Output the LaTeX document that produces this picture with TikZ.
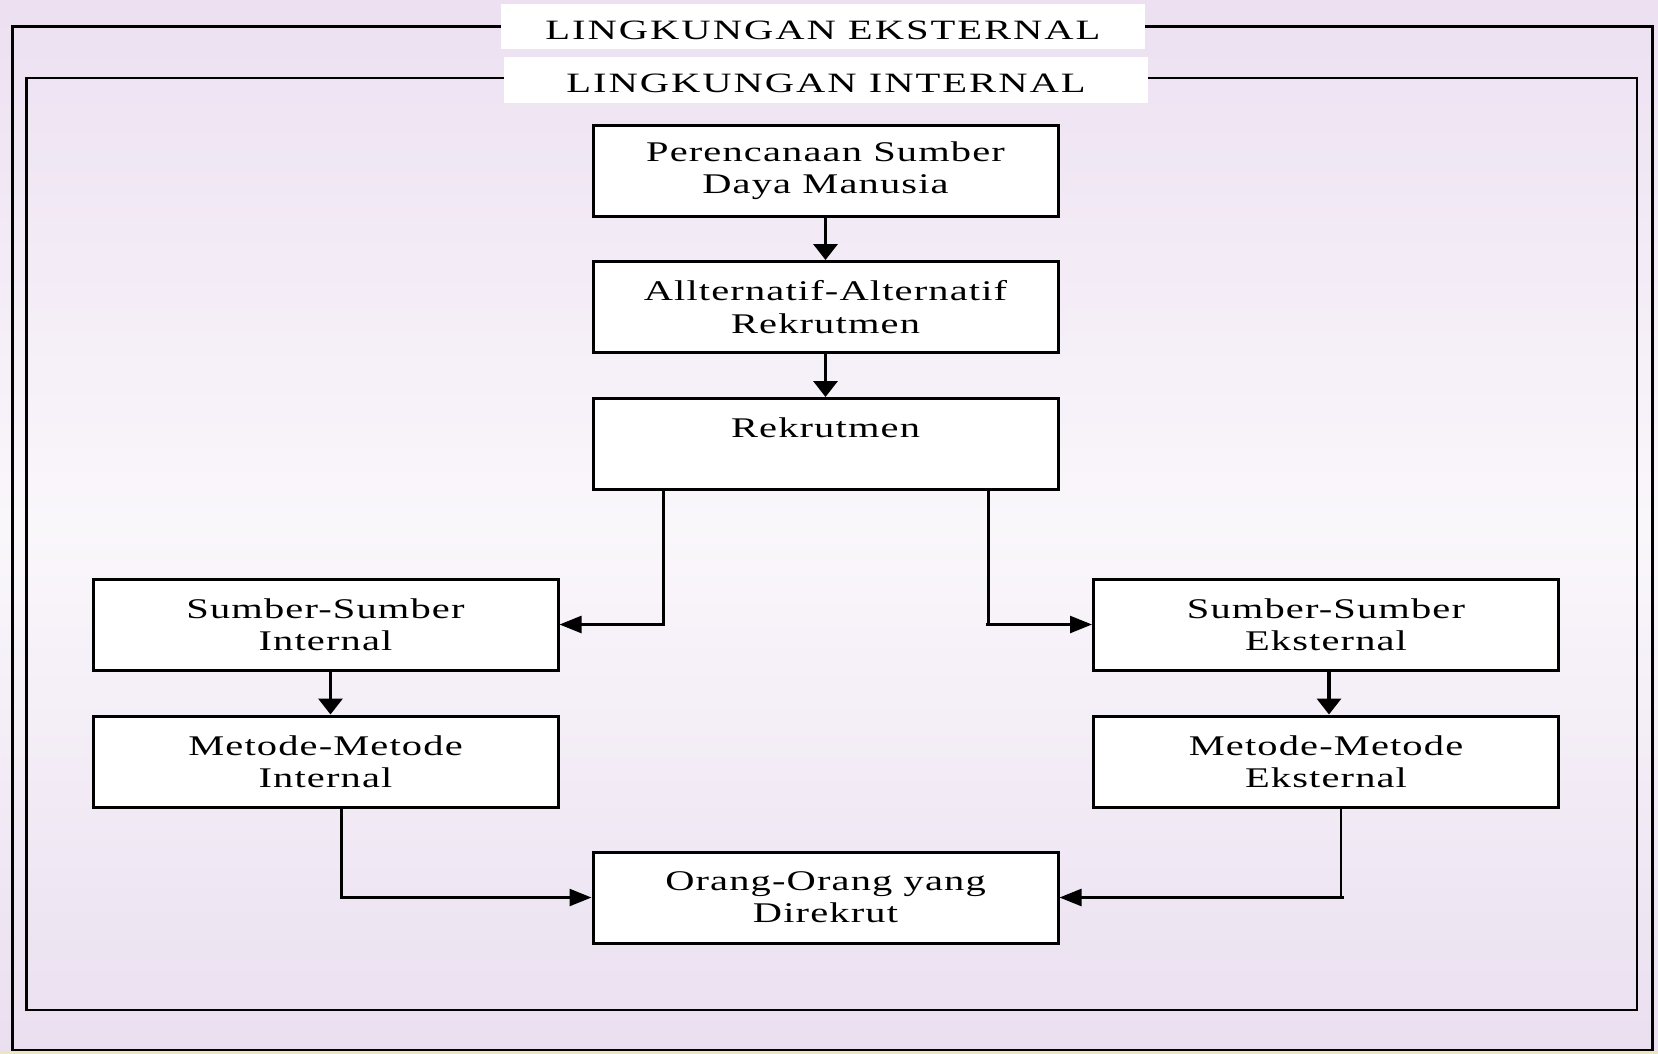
\documentclass[tikz,border=0pt]{standalone}
\usepackage{fontspec}
\setmainfont{Liberation Serif}
\newfontfamily\boxfont{Liberation Serif}[FakeStretch=1.42,LetterSpace=4]
\newfontfamily\titlefont{Liberation Serif}[FakeStretch=1.45,LetterSpace=7]
\usetikzlibrary{arrows.meta,calc}
\definecolor{bgtop}{RGB}{236,224,241}
\definecolor{bgmid}{RGB}{250,247,251}
\definecolor{bgbot}{RGB}{234,223,240}
\definecolor{strip}{RGB}{236,230,185}
\tikzset{
  frame/.style={draw=black,line width=2.5pt},
  stepbox/.style={draw=black,fill=white,line width=3pt,minimum width=465pt,minimum height=91pt,
    inner sep=0pt,align=center,font=\boxfont\fontsize{28.5}{32.3}\selectfont},
  titletext/.style={inner sep=0pt,font=\titlefont\fontsize{28}{32}\selectfont},
  varr/.style={line width=3.5pt,-{Triangle[length=16pt,width=24pt]}},
  harr/.style={line width=2.5pt,-{Triangle[length=22pt,width=17pt]}},
}
\begin{document}
\begin{tikzpicture}[x=1pt,y=-1pt]
\useasboundingbox (0,0) rectangle (1658,1053);
\fill[top color=bgtop,bottom color=bgbot,middle color=bgmid] (0,0) rectangle (1658,1053);
\fill[strip] (0,1050.5) rectangle (1658,1053);
% frames
\draw[frame] (12.7,26.5) rectangle (1652.7,1050);
\draw[frame] (26.4,78.2) rectangle (1636.9,1009.8);
% title boxes
\fill[white] (501,4) rectangle (1145,49);
\fill[white] (504,57) rectangle (1148,102.6);
\node[titletext,anchor=base] (ext) at (823,39.3) {LINGKUNGAN EKSTERNAL};
\node[titletext,anchor=base] (int) at (826,92.3) {LINGKUNGAN INTERNAL};
% boxes
\node[stepbox] (b1) at (825.5,171) {Perencanaan Sumber\\Daya Manusia};
\node[stepbox] (b2) at (825.5,307) {Allternatif-Alternatif\\Rekrutmen};
\node[stepbox] (b3) at (825.5,444) {Rekrutmen\\\phantom{R}};
\node[stepbox] (b4) at (325.5,624.5) {Sumber-Sumber\\Internal};
\node[stepbox] (b5) at (325.5,761.5) {Metode-Metode\\Internal};
\node[stepbox] (b6) at (1326,624.5) {Sumber-Sumber\\Eksternal};
\node[stepbox] (b7) at (1326,761.5) {Metode-Metode\\Eksternal};
\node[stepbox] (b8) at (825.5,897.5) {Orang-Orang yang\\Direkrut};
% connectors
\coordinate (c36) at ($(b3.south west)+(397,0)$);
\coordinate (c78) at ($(b7.south west)+(249,0)$);
\draw[varr] (b1) -- (b2);
\draw[varr] (b2) -- (b3);
\draw[harr] ($(b3.south west)+(72,0)$) |- (b4.east);
\draw[harr] (c36) -- (c36 |- b6.west) ++(-3,0) -- (b6.west);
\draw[varr] ($(b4.south west)+(239,0)$) -- ($(b5.north west)+(239,0)$);
\draw[varr] ($(b6.south west)+(237,0)$) -- ($(b7.north west)+(237,0)$);
\draw[harr] ($(b5.south west)+(250,0)$) |- (b8.west);
\draw[harr] (c78) -- (c78 |- b8.east) ++(3,0) -- (b8.east);
\end{tikzpicture}
\end{document}
